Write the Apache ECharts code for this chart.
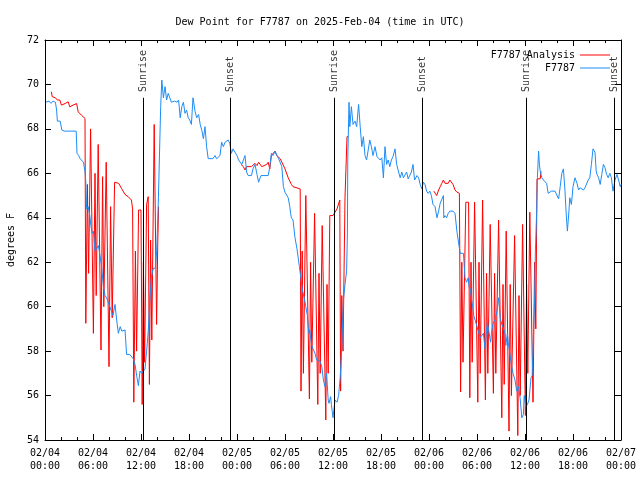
<!DOCTYPE html>
<html>
<head>
<meta charset="utf-8">
<script src="https://cdn.jsdelivr.net/npm/echarts@6/dist/echarts.min.js"></script>
<style>html,body{margin:0;padding:0;background:#fff}#c{width:640px;height:480px}</style>
</head>
<body>
<div id="c"></div>
<script>
// ---- data (hours since 2025-02-04 00:00 UTC, degrees F) ----
var xTickLabels = ['02/04\n00:00','02/04\n06:00','02/04\n12:00','02/04\n18:00','02/05\n00:00','02/05\n06:00','02/05\n12:00','02/05\n18:00','02/06\n00:00','02/06\n06:00','02/06\n12:00','02/06\n18:00','02/07\n00:00'];
var sunTimes = [12.29, 23.2, 36.15, 47.2, 60.12, 71.15];
var sunLabels = ['Sunrise','Sunset','Sunrise','Sunset','Sunrise','Sunset'];

var obsF7787 = [[0.1,69.2],[0.5,69.25],[0.75,69.15],[1.0,69.25],[1.3,69.2],[1.45,68.85],[1.55,68.35],[1.75,68.3],[1.9,68.35],[2.1,67.95],[2.4,67.9],[3.0,67.9],[3.5,67.9],[3.9,67.9],[4.0,66.9],[4.2,66.8],[4.4,66.66],[4.8,66.5],[5.0,66.1],[5.1,65.6],[5.2,64.4],[5.4,64.5],[5.6,64.1],[5.75,63.6],[5.9,63.3],[6.05,63.4],[6.25,62.5],[6.45,62.6],[6.67,62.75],[6.875,62.3],[7.08,61.8],[7.3,60.9],[7.5,60.5],[7.7,60.4],[7.9,60.35],[8.1,60.0],[8.3,59.8],[8.5,59.6],[8.75,60.1],[8.96,59.4],[9.17,58.8],[9.4,59.1],[9.6,58.9],[9.8,58.85],[10.0,58.95],[10.1,58.4],[10.2,57.85],[10.6,57.85],[10.8,57.9],[11.04,57.65],[11.25,57.4],[11.5,56.8],[11.67,56.45],[11.875,57.1],[12.1,57.0],[12.3,57.05],[12.5,57.2],[12.7,58.0],[12.9,58.85],[13.1,60.3],[13.3,61.3],[13.5,61.7],[13.8,61.75],[13.96,62.5],[14.04,63.3],[14.17,64.8],[14.375,67.8],[14.46,69.0],[14.6,70.2],[14.8,69.4],[15.0,69.9],[15.2,69.3],[15.4,69.6],[15.6,69.4],[15.8,69.2],[16.2,69.25],[16.5,69.2],[16.7,69.3],[16.9,68.5],[17.1,69.0],[17.3,69.2],[17.5,68.7],[17.7,68.85],[17.9,68.5],[18.1,68.4],[18.3,68.2],[18.5,69.4],[18.75,68.8],[18.96,68.5],[19.2,68.65],[19.4,68.2],[19.6,67.94],[19.8,67.56],[20.0,68.1],[20.2,67.2],[20.4,66.66],[21.0,66.66],[21.25,66.8],[21.46,66.66],[21.67,66.6],[21.875,66.8],[22.08,67.4],[22.3,67.2],[22.5,67.4],[22.7,67.35],[22.9,67.5],[23.1,67.35],[23.3,66.9],[23.5,67.1],[23.75,67.05],[24.0,66.8],[24.2,66.6],[24.4,66.66],[24.6,66.4],[24.8,66.4],[25.0,66.8],[25.2,66.06],[25.4,65.9],[25.8,65.9],[26.0,66.2],[26.25,66.4],[26.5,65.95],[26.7,65.6],[26.9,65.6],[27.0,65.9],[27.5,65.9],[27.9,65.9],[28.1,66.3],[28.3,66.9],[28.5,66.8],[28.75,67.0],[29.2,66.66],[29.6,66.3],[29.8,65.4],[30.0,65.15],[30.2,65.15],[30.4,64.9],[30.6,64.5],[30.7,64.2],[30.8,64.0],[31.0,63.9],[31.25,63.1],[31.5,62.6],[31.7,62.55],[31.8,61.8],[32.0,61.25],[32.2,60.7],[32.4,60.4],[32.6,60.0],[32.8,59.6],[32.9,59.1],[33.0,58.8],[33.1,58.95],[33.3,58.3],[33.5,58.1],[33.75,57.9],[33.96,57.6],[34.375,57.55],[34.6,57.3],[34.8,56.7],[35.0,56.4],[35.2,57.0],[35.4,55.8],[35.5,55.65],[35.7,55.95],[35.8,55.6],[36.0,55.0],[36.25,55.8],[36.5,55.7],[36.7,56.0],[36.9,56.8],[37.1,58.2],[37.3,60.3],[37.5,61.0],[37.7,61.6],[37.8,63.3],[37.85,66.7],[38.0,69.2],[38.1,68.1],[38.3,69.0],[38.5,68.2],[38.75,68.35],[38.96,68.1],[39.2,69.1],[39.4,68.1],[39.6,67.2],[39.8,67.65],[40.0,66.8],[40.2,66.6],[40.4,67.05],[40.6,67.5],[40.8,67.2],[41.0,66.8],[41.25,67.2],[41.5,66.75],[41.7,66.8],[41.9,66.6],[42.1,66.7],[42.3,65.8],[42.5,67.2],[42.7,66.4],[42.9,66.6],[43.1,66.3],[43.3,66.6],[43.5,66.75],[43.75,67.1],[43.96,66.4],[44.2,66.06],[44.4,65.8],[44.6,66.06],[44.8,65.8],[45.0,65.75],[45.2,66.06],[45.4,65.75],[45.6,65.8],[45.8,66.06],[46.0,66.4],[46.2,65.7],[46.5,65.9],[46.7,65.8],[46.9,65.5],[47.1,65.3],[47.3,65.6],[47.5,65.5],[47.7,65.2],[47.9,65.1],[48.1,65.2],[48.3,65.0],[48.5,64.6],[48.75,64.5],[49.0,64.0],[49.2,64.3],[49.4,64.65],[49.6,64.65],[49.8,65.0],[49.85,64.0],[50.0,64.1],[50.2,64.0],[50.4,64.2],[50.6,64.3],[51.0,64.3],[51.25,64.2],[51.5,63.35],[51.7,63.3],[51.9,62.4],[52.3,62.4],[52.4,61.9],[52.5,61.3],[52.7,61.1],[52.9,61.3],[53.0,60.9],[53.2,60.75],[53.3,60.4],[53.5,59.9],[53.6,59.6],[53.75,59.6],[53.96,59.15],[54.2,58.85],[54.4,58.6],[54.6,58.65],[54.8,58.8],[55.0,58.1],[55.2,58.95],[55.3,59.3],[55.5,59.25],[55.7,58.4],[55.8,58.8],[56.0,59.25],[56.25,59.4],[56.5,59.8],[56.7,60.4],[56.9,59.5],[57.1,59.2],[57.3,59.05],[57.5,58.8],[57.6,58.25],[57.8,58.8],[57.9,58.4],[58.1,57.9],[58.3,57.4],[58.5,57.0],[58.75,56.7],[58.96,56.2],[59.2,56.4],[59.4,55.85],[59.6,55.0],[59.8,55.15],[59.9,56.0],[60.1,55.5],[60.3,55.6],[60.5,55.8],[60.75,56.8],[60.9,56.9],[61.0,58.2],[61.2,60.3],[61.3,62.5],[61.45,64.2],[61.55,65.8],[61.7,67.0],[61.8,66.4],[61.9,66.1],[62.1,65.8],[62.3,65.7],[62.5,65.7],[62.7,65.55],[62.9,65.1],[63.1,65.15],[63.3,65.2],[63.75,65.2],[63.96,65.15],[64.2,64.85],[64.4,65.4],[64.6,66.0],[64.8,66.2],[65.0,65.2],[65.1,64.5],[65.2,63.9],[65.3,63.4],[65.5,64.35],[65.6,64.9],[65.8,64.6],[66.0,65.4],[66.25,65.8],[66.5,65.55],[66.7,65.25],[66.9,65.35],[67.1,65.35],[67.3,65.25],[67.5,65.35],[67.7,65.35],[67.9,65.7],[68.1,65.8],[68.3,66.4],[68.5,67.1],[68.75,66.95],[68.9,66.1],[69.0,65.95],[69.2,65.8],[69.4,65.5],[69.6,65.95],[69.8,66.4],[70.0,66.25],[70.2,65.95],[70.4,65.8],[70.6,66.0],[70.8,65.8],[71.0,65.2],[71.25,65.7],[71.5,65.95],[71.7,65.7],[71.9,65.4],[72.0,65.5]];

var analysisDay1 = [[0.8,69.67],[0.9,69.45],[1.3,69.4],[1.55,69.3],[1.85,69.3],[2.05,69.07],[2.5,69.14],[2.9,69.22],[3.1,68.99],[3.5,69.07],[3.95,69.14],[4.15,68.77],[4.55,68.62],[5.0,68.47],[5.1,59.25],[5.3,65.5],[5.45,61.5],[5.7,68.0],[5.9,68.0],[6.05,58.8],[6.25,66.0],[6.4,60.5],[6.65,67.3],[6.85,67.3],[7.0,58.05],[7.2,65.85],[7.35,60.0],[7.65,66.5],[7.85,66.5],[8.0,57.3],[8.2,64.5],[8.4,59.5],[8.7,65.6],[9.2,65.55],[9.6,65.3],[10.0,65.05],[10.4,64.95],[10.8,64.8],[10.95,64.4],[11.1,55.7],[11.3,62.5],[11.45,58.0],[11.7,64.35],[12.0,64.35],[12.15,55.6],[12.3,62.0],[12.45,57.5],[12.7,64.6],[12.9,64.95],[13.05,56.5],[13.2,63.0],[13.35,58.5],[13.65,68.2],[13.8,68.2],[13.95,59.2],[14.1,63.0],[14.2,64.5]];
var analysisDay2 = [[24.5,66.4],[24.8,66.3],[25.0,66.15],[25.2,66.3],[25.4,66.25],[25.8,66.3],[26.25,66.45],[26.5,66.35],[26.7,66.5],[26.9,66.5],[27.1,66.3],[27.3,66.35],[27.7,66.4],[27.9,66.5],[28.1,66.2],[28.3,66.8],[28.75,67.0],[28.96,66.8],[29.4,66.66],[29.6,66.66],[30.0,66.2],[30.4,65.8],[30.8,65.5],[31.0,65.4],[31.9,65.3],[32.0,56.2],[32.15,62.5],[32.3,57.0],[32.6,65.0],[32.85,65.0],[33.05,55.85],[33.2,62.0],[33.35,57.5],[33.7,64.2],[33.9,64.2],[34.1,55.6],[34.25,61.5],[34.4,57.0],[34.65,63.65],[34.85,63.65],[35.1,54.9],[35.25,61.0],[35.4,57.0],[35.6,64.1],[36.0,64.1],[36.5,64.4],[36.85,64.8],[36.95,56.2],[37.1,60.5],[37.25,58.0],[37.5,64.9],[37.65,64.9],[37.75,67.65],[37.9,67.65]];
var analysisDay3 = [[48.6,65.2],[48.75,65.15],[48.96,65.0],[49.2,65.25],[49.4,65.4],[49.6,65.55],[49.8,65.7],[50.0,65.55],[50.2,65.5],[50.4,65.55],[50.6,65.7],[50.8,65.7],[51.0,65.5],[51.25,65.25],[51.5,65.15],[51.8,65.1],[51.95,56.16],[52.1,62.0],[52.25,57.5],[52.6,64.7],[52.95,64.7],[53.1,55.9],[53.25,62.0],[53.4,57.5],[53.7,64.7],[53.95,64.7],[54.1,55.7],[54.25,62.0],[54.4,57.0],[54.7,64.8],[54.9,64.8],[55.05,55.8],[55.2,61.5],[55.35,57.0],[55.65,63.7],[55.85,63.7],[56.05,56.1],[56.2,61.5],[56.35,57.0],[56.7,63.9],[56.95,63.9],[57.1,55.0],[57.25,61.0],[57.4,56.5],[57.65,63.4],[57.8,63.4],[58.0,54.4],[58.15,61.0],[58.3,56.0],[58.7,63.2],[58.95,63.2],[59.1,54.2],[59.25,60.5],[59.4,56.0],[59.7,63.7],[59.9,63.7],[60.05,55.1],[60.2,61.0],[60.35,57.0],[60.6,64.25],[60.85,64.25],[61.0,55.7],[61.2,62.0],[61.35,59.0],[61.5,65.75],[61.9,65.75],[62.0,66.1]];

// ---- chart ----
var FONT = 'DejaVu Sans Mono';
var RED = '#ff0000', BLUE = '#1e8cf5';
var chart = echarts.init(document.getElementById('c'), null, {renderer: 'canvas'});

function redSeries(d) {
  return {type: 'line', name: 'F7787 Analysis', data: d, showSymbol: false, symbol: 'none',
    lineStyle: {color: RED, width: 1}, itemStyle: {color: RED}, z: 2, silent: true};
}
var axisCommon = {
  type: 'value', splitLine: {show: false},
  axisLine: {show: true, onZero: false, lineStyle: {color: '#000', width: 1}},
  axisTick: {show: true, inside: true, length: 6, lineStyle: {color: '#000'}}
};
var legendCommon = {right: 30, align: 'right', itemWidth: 30, itemHeight: 1, padding: 0, icon: 'rect',
  textStyle: {fontFamily: FONT, fontSize: 10, color: '#000'}};

var option = {
  animation: false,
  backgroundColor: '#fff',
  title: {text: 'Dew Point for F7787 on 2025-Feb-04 (time in UTC)', left: 'center', top: 12,
    textStyle: {fontFamily: FONT, fontSize: 10, fontWeight: 'normal', color: '#000'}},
  legend: [
    Object.assign({}, legendCommon, {data: ['F7787 Analysis'], top: 50}),
    Object.assign({}, legendCommon, {data: ['F7787'], top: 63})
  ],
  grid: {left: 45, right: 19, top: 40, bottom: 40, containLabel: false, outerBoundsMode: 'none'},
  xAxis: [
    Object.assign({}, axisCommon, {position: 'bottom', min: 0, max: 72, interval: 6,
      minorTick: {show: true, splitNumber: 3, length: 3, lineStyle: {color: '#000'}},
      axisLabel: {color: '#000', fontFamily: FONT, fontSize: 10, lineHeight: 13, margin: 7,
        showMinLabel: true, showMaxLabel: true,
        formatter: function (v) { return xTickLabels[Math.round(v / 6)]; }}}),
    Object.assign({}, axisCommon, {position: 'top', min: 0, max: 72, interval: 6,
      minorTick: {show: true, splitNumber: 3, length: 3, lineStyle: {color: '#000'}},
      axisLabel: {show: false}})
  ],
  yAxis: [
    Object.assign({}, axisCommon, {position: 'left', min: 54, max: 72, interval: 2,
      name: 'degrees F', nameLocation: 'middle', nameRotate: 90, nameGap: 29,
      nameTextStyle: {fontFamily: FONT, fontSize: 10, color: '#000'},
      axisLabel: {color: '#000', fontFamily: FONT, fontSize: 10, margin: 6}}),
    Object.assign({}, axisCommon, {position: 'right', min: 54, max: 72, interval: 2,
      axisLabel: {show: false}})
  ],
  series: [
    redSeries(analysisDay1),
    redSeries(analysisDay2),
    redSeries(analysisDay3),
    {type: 'line', name: 'F7787', data: obsF7787, showSymbol: false, symbol: 'none',
      lineStyle: {color: BLUE, width: 1}, itemStyle: {color: BLUE}, z: 3, silent: true,
      markLine: {silent: true, symbol: ['none', 'none'], label: {show: false},
        lineStyle: {color: '#000', width: 1, type: 'solid'},
        data: sunTimes.map(function (t) { return [{coord: [t, 54]}, {coord: [t, 69.4]}]; })}},
    {type: 'scatter', name: 'sun', data: sunTimes.map(function (t, i) {
        return {value: [t, 69.66], label: {formatter: sunLabels[i]}};
      }), symbol: 'circle', symbolSize: 1, itemStyle: {color: 'rgba(0,0,0,0)'}, silent: true, z: 5,
      labelLayout: {hideOverlap: false},
      label: {show: true, position: 'inside', rotate: 90, align: 'left', verticalAlign: 'middle',
        fontFamily: FONT, fontSize: 10, color: '#000'}}
  ]
};
chart.setOption(option);
</script>
</body>
</html>
